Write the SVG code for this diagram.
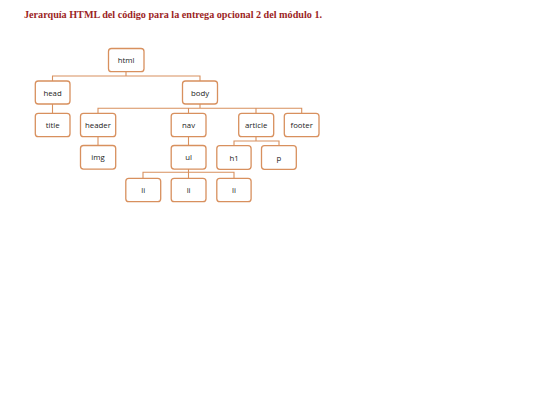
<svg xmlns="http://www.w3.org/2000/svg" width="540" height="405" viewBox="0 0 540 405">
<style>
.n rect{fill:#fff;stroke:#D8905E;stroke-width:1.3}
.n text{font-family:"Open Sans","Liberation Sans",sans-serif;font-size:7.8px;fill:#222;text-anchor:middle;dominant-baseline:central}
.c path{fill:none;stroke:#D8905E;stroke-width:1.1}
.t{font-family:"Liberation Serif",serif;font-weight:bold;font-size:10px;fill:#9C1F1F}
</style>
<rect width="540" height="405" fill="#fff"/>
<text class="t" x="24" y="18.3" textLength="298" lengthAdjust="spacingAndGlyphs">Jerarquía HTML del código para la entrega opcional 2 del módulo 1.</text>
<g class="c" id="connectors">
<path d="M126 72V76M52.5 81V76H200V81"/>
<path d="M52.5 104V113"/>
<path d="M200 104V108.3M98 113V108.3H301.7V113M188.5 108.3V113M256 108.3V113"/>
<path d="M98 137V145"/>
<path d="M188.5 137V145"/>
<path d="M256 137V141M234 145.5V141H279V145.5"/>
<path d="M188.5 169V172.3M143 178V172.3H234V178M188.5 172.3V178"/>
</g>
<g class="n" id="html"><rect x="108.5" y="48.5" width="35.5" height="23.2" rx="3"/><text x="126.2" y="60.1">html</text></g>
<g class="n" id="head"><rect x="35.3" y="81" width="34.7" height="23" rx="3"/><text x="52.6" y="92.5">head</text></g>
<g class="n" id="body"><rect x="182.5" y="81" width="35" height="23" rx="3"/><text x="200" y="92.5">body</text></g>
<g class="n" id="title"><rect x="35.3" y="113.3" width="34.7" height="23.4" rx="3"/><text x="52.6" y="125">title</text></g>
<g class="n" id="header"><rect x="80.5" y="113.3" width="35.2" height="23.4" rx="3"/><text x="98" y="125">header</text></g>
<g class="n" id="nav"><rect x="171.2" y="113.3" width="34.8" height="23.4" rx="3"/><text x="188.6" y="125">nav</text></g>
<g class="n" id="article"><rect x="238.7" y="113.3" width="35" height="23.4" rx="3"/><text x="256.2" y="125">article</text></g>
<g class="n" id="footer"><rect x="284.3" y="113.3" width="34.7" height="23.4" rx="3"/><text x="301.7" y="125">footer</text></g>
<g class="n" id="img"><rect x="80.5" y="145.5" width="35.2" height="23.6" rx="3"/><text x="98" y="157.3">img</text></g>
<g class="n" id="ul"><rect x="171.2" y="145.5" width="34.8" height="23.6" rx="3"/><text x="188.6" y="157.3">ul</text></g>
<g class="n" id="h1"><rect x="216.8" y="145.7" width="34.3" height="23.6" rx="3"/><text x="234" y="157.5">h1</text></g>
<g class="n" id="p"><rect x="261.5" y="145.7" width="34.8" height="23.6" rx="3"/><text x="278.9" y="157.5">p</text></g>
<g class="n" id="li1"><rect x="125.8" y="178.3" width="34.9" height="23.4" rx="3"/><text x="143.2" y="190">li</text></g>
<g class="n" id="li2"><rect x="171.2" y="178.3" width="34.8" height="23.4" rx="3"/><text x="188.6" y="190">li</text></g>
<g class="n" id="li3"><rect x="216.8" y="178.3" width="34.3" height="23.4" rx="3"/><text x="234" y="190">li</text></g>
</svg>
